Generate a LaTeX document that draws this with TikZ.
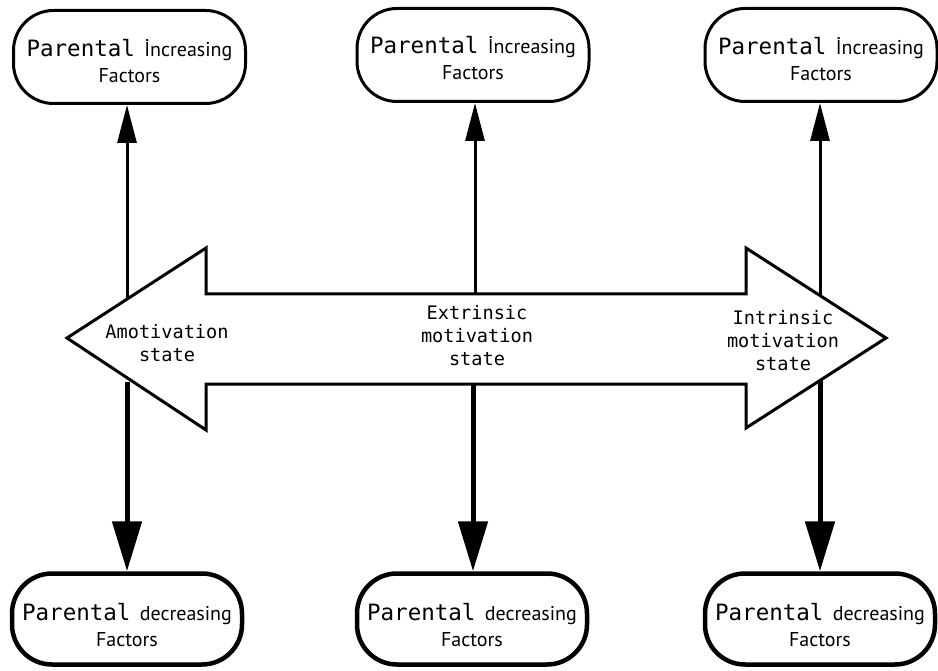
\documentclass[tikz,border=0pt]{standalone}
\usepackage{fontspec}
\newfontfamily\monof{DejaVu Sans Mono}
\newfontfamily\sansf{PT Sans}
\usetikzlibrary{arrows.meta}
\begin{document}
\begin{tikzpicture}[x=1pt,y=-1pt,
  topbox/.style={draw,line width=3pt,rounded corners=40pt,minimum width=232pt,minimum height=93pt,inner sep=0pt},
  botbox/.style={draw,line width=4.5pt,rounded corners=40pt,minimum width=230pt,minimum height=91pt,inner sep=0pt},
  boxtxt/.style={align=center,inner sep=0pt,font=\sansf\fontsize{20}{26}\selectfont},
  upar/.style={line width=3pt,-{Triangle[length=38pt,width=19pt]}},
  downar/.style={line width=5pt,-{Triangle[length=50pt,width=29pt]}},
  statelbl/.style={align=center,font=\monof\fontsize{18.6}{23}\selectfont,inner sep=0pt}
]
\newcommand{\parword}{{\monof\fontsize{22.5}{26}\selectfont Parental}\hspace{4pt}}
\useasboundingbox (0,0) rectangle (938,671);
% double arrow
\draw[line width=3pt,line join=miter,fill=white]
  (67,338) -- (206,248) -- (206,294) -- (746,294) -- (746,248) -- (886,338)
  -- (746,428) -- (746,384) -- (206,384) -- (206,430) -- cycle;
% labels
\node[statelbl] (amo) at (167,343) {Amotivation\\state};
\node[statelbl] (ext) at (477,336) {Extrinsic\\motivation\\state};
\node[statelbl] (intr) at (783,341) {Intrinsic\\motivation\\state};
% boxes
\node[topbox] (TL) at (129.5,57) {};
\node[topbox] (TM) at (473,55) {};
\node[topbox] (TR) at (821,55) {};
\node[botbox] (BL) at (127,619) {};
\node[botbox] (BM) at (472,619) {};
\node[botbox] (BR) at (820,619) {};
\node[boxtxt] (TLt) at ([yshift=-4pt]TL.center) {\parword{} İncreasing\\Factors};
\node[boxtxt] (TMt) at ([yshift=-3pt]TM.center) {\parword{} İncreasing\\Factors};
\node[boxtxt] (TRt) at ([yshift=-4pt]TR.center) {\parword{} İncreasing\\Factors};
\node[boxtxt] (BLt) at ([yshift=-6pt]BL.center) {\parword{} decreasing\\Factors};
\node[boxtxt] (BMt) at ([yshift=-6pt]BM.center) {\parword{} decreasing\\Factors};
\node[boxtxt] (BRt) at ([yshift=-6pt]BR.center) {\parword{} decreasing\\Factors};
% connector start points
\coordinate (u1) at (127,299);
\coordinate (u2) at (475,294);
\coordinate (u3) at (820,296);
\coordinate (d1) at (127,382);
\coordinate (d2) at (473,384);
\coordinate (d3) at (820,380);
\draw[upar] (u1) -- (u1 |- TL.south);
\draw[upar] (u2) -- (u2 |- TM.south);
\draw[upar] (u3) -- (u3 |- TR.south);
\draw[downar] (d1) -- (d1 |- BL.north);
\draw[downar] (d2) -- (d2 |- BM.north);
\draw[downar] (d3) -- (d3 |- BR.north);
\end{tikzpicture}
\end{document}
